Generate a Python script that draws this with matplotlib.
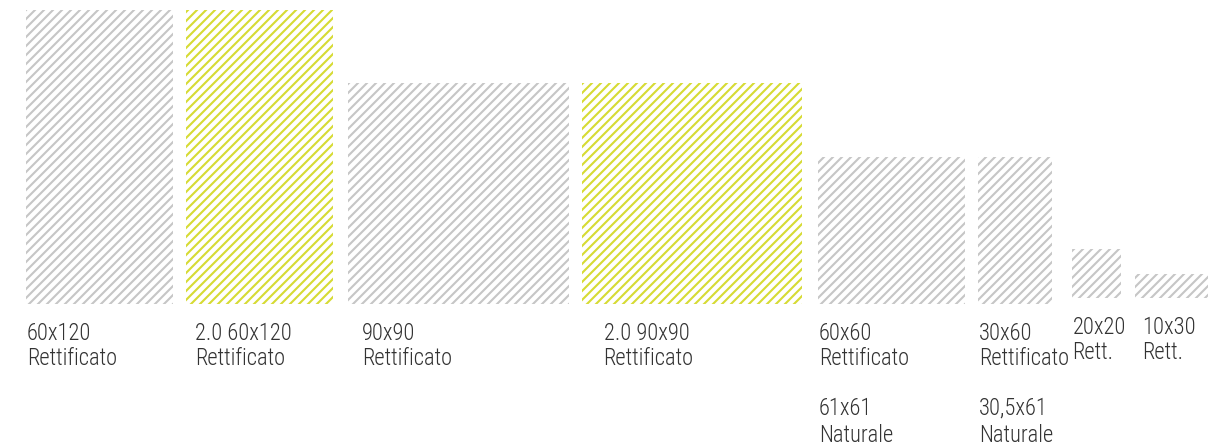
import matplotlib.pyplot as plt
import matplotlib as mpl

# tile formats: width x height in cm
labels_top = ['60x120', '2.0 60x120', '90x90', '2.0 90x90', '60x60', '30x60', '20x20', '10x30']
labels_sub = ['Rettificato', 'Rettificato', 'Rettificato', 'Rettificato', 'Rettificato', 'Rettificato', 'Rett.', 'Rett.']
labels_extra = ['', '', '', '', '61x61', '30,5x61', '', '']
labels_extra_sub = ['', '', '', '', 'Naturale', 'Naturale', '', '']
widths = [60, 60, 90, 90, 60, 30, 20, 30]
heights = [120, 120, 90, 90, 60, 60, 20, 10]
is_new = [False, True, False, True, False, False, False, False]

dpi = 108
W, H = 1213, 445
scale = 2.45          # px per cm
gaps = [13, 15, 13, 16, 13, 20, 14]
base = [304, 304, 304, 304, 304, 304, 298, 298]
label_dx = [1, 9, 14, 22, 1, 1, 1, 8]

mpl.rcParams['hatch.linewidth'] = 1.4
mpl.rcParams['font.family'] = ['Roboto Condensed', 'DejaVu Sans']
mpl.rcParams['font.weight'] = 300

fig = plt.figure(figsize=(W / dpi, H / dpi), dpi=dpi)
ax = fig.add_axes([0, 0, 1, 1])
ax.set_xlim(0, W)
ax.set_ylim(H, 0)
ax.axis('off')

gray = '#c6c6c6'
yellow = '#d6db34'
txt = '#333333'
fs = 15

x = 26
for i in range(len(widths)):
    w = widths[i] * scale
    h = heights[i] * scale
    c = yellow if is_new[i] else gray
    ax.bar(x, -h, width=w, bottom=base[i], align='edge', color='none',
           edgecolor=c, linewidth=0, hatch='////')
    tx = x + label_dx[i]
    y0 = base[i] + 36
    ax.text(tx, y0, labels_top[i], fontsize=fs, color=txt, va='baseline', ha='left')
    ax.text(tx, y0 + 25, labels_sub[i], fontsize=fs, color=txt, va='baseline', ha='left')
    if labels_extra[i]:
        ax.text(tx, y0 + 75, labels_extra[i], fontsize=fs, color=txt, va='baseline', ha='left')
        ax.text(tx, y0 + 102, labels_extra_sub[i], fontsize=fs, color=txt, va='baseline', ha='left')
    if i < len(gaps):
        x += w + gaps[i]

fig.savefig('out.png', dpi=dpi)
